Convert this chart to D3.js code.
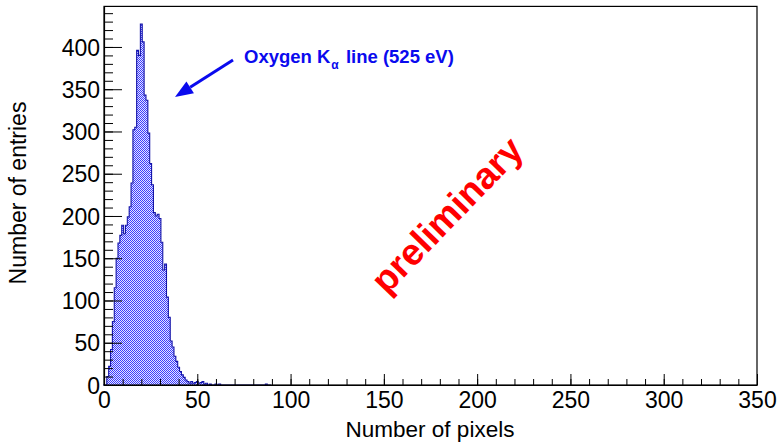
<!DOCTYPE html>
<html>
<head>
<meta charset="utf-8">
<script src="https://cdn.jsdelivr.net/npm/d3@7/dist/d3.min.js"></script>
<style>
  html, body { margin: 0; padding: 0; background: #fff; }
  svg { display: block; }
  text { font-family: "Liberation Sans", Arial, Helvetica, sans-serif; }
</style>
</head>
<body>
<svg id="chart" width="778" height="443"></svg>
<script>
// ---- data ----
// counts[i] = number of entries in the bin centred on i pixels (bin width 1)
const counts = [
  0, 0, 10, 22, 42, 75, 115, 150, 168, 177,
  189, 179, 189, 199, 211, 239, 302, 305, 396, 390,
  427, 406, 343, 337, 298, 262, 237, 204, 200, 202,
  197, 169, 136, 143, 104, 80, 52, 45, 34, 28,
  21, 16, 12, 9, 6, 4, 2, 4, 2, 3,
  4, 2, 3, 4, 1, 2, 0, 1, 0, 0,
  1, 0, 1, 0, 0, 0, 0, 0, 0, 0,
  0, 0, 0, 0, 0, 0, 0, 0, 0, 0,
  0, 0, 0, 0, 0, 0, 0, 1, 0, 0
];
const xDomain = [0, 350];
const yDomain = [0, 448];
const xMajorTicks = [0, 50, 100, 150, 200, 250, 300, 350];
const yMajorTicks = [0, 50, 100, 150, 200, 250, 300, 350, 400];
const xTitle = "Number of pixels";
const yTitle = "Number of entries";
const watermark = "preliminary";

// ---- layout ----
const svg = d3.select("#chart");
const L = 104, R = 757, T = 6.4, B = 385;
const x = d3.scaleLinear().domain(xDomain).range([L, R]);
const y = d3.scaleLinear().domain(yDomain).range([B, T]);

// fill pattern (checkered blue)
const defs = svg.append("defs");
const pat = defs.append("pattern").attr("id", "hatch")
  .attr("patternUnits", "userSpaceOnUse").attr("width", 2).attr("height", 2);
pat.append("rect").attr("width", 2).attr("height", 2).attr("fill", "#e4e4ff");
pat.append("rect").attr("x", 0).attr("y", 0).attr("width", 1).attr("height", 1).attr("fill", "#3c3cff");
pat.append("rect").attr("x", 1).attr("y", 1).attr("width", 1).attr("height", 1).attr("fill", "#3c3cff");

// histogram step path
const pts = [];
counts.forEach((c, i) => {
  pts.push([x(i - 0.5), y(c)]);
  pts.push([x(i + 0.5), y(c)]);
});
const first = pts[0], last = pts[pts.length - 1];
const area = [[first[0], y(0)], ...pts, [last[0], y(0)]];
svg.append("path")
  .attr("d", d3.line()(area) + "Z")
  .attr("fill", "url(#hatch)")
  .attr("stroke", "none");
svg.append("path")
  .attr("d", d3.line()(area))
  .attr("fill", "none")
  .attr("stroke", "#1414a8")
  .attr("stroke-width", 1.1);

// frame
svg.append("rect").attr("x", L).attr("y", T).attr("width", R - L).attr("height", B - T)
  .attr("fill", "none").attr("stroke", "#000").attr("stroke-width", 1.2);

// x axis
const xAxis = d3.axisBottom(x).tickValues(xMajorTicks).tickSizeInner(-11).tickSizeOuter(0).tickFormat(d3.format("d"));
const gx = svg.append("g").attr("transform", `translate(0,${B})`).call(xAxis);
gx.select(".domain").attr("stroke-width", 1.2);
gx.selectAll(".tick line").attr("stroke-width", 1);
gx.selectAll(".tick text").attr("font-size", 23).attr("fill", "#000")
  .attr("font-family", "Liberation Sans, Arial, sans-serif")
  .attr("y", 6).attr("dy", "0.72em");
const xMinor = d3.axisBottom(x).ticks(35).tickSizeInner(-6).tickSizeOuter(0).tickFormat("");
const gxm = svg.append("g").attr("transform", `translate(0,${B})`).call(xMinor);
gxm.select(".domain").remove();

// y axis
const yAxis = d3.axisLeft(y).tickValues(yMajorTicks).tickSizeInner(-18).tickSizeOuter(0).tickFormat(d3.format("d"));
const gy = svg.append("g").attr("transform", `translate(${L},0)`).call(yAxis);
gy.select(".domain").attr("stroke-width", 1.2);
gy.selectAll(".tick line").attr("stroke-width", 1);
gy.selectAll(".tick text").attr("font-size", 23).attr("fill", "#000")
  .attr("font-family", "Liberation Sans, Arial, sans-serif")
  .attr("x", -4).attr("dy", "0.35em");
const yMinor = d3.axisLeft(y).ticks(44).tickSizeInner(-9).tickSizeOuter(0).tickFormat("");
const gym = svg.append("g").attr("transform", `translate(${L},0)`).call(yMinor);
gym.select(".domain").remove();

// titles
svg.append("text").attr("x", 430).attr("y", 437).attr("text-anchor", "middle")
  .attr("font-size", 22.5).text(xTitle);
svg.append("text").attr("transform", "translate(26,193) rotate(-90)").attr("text-anchor", "middle")
  .attr("font-size", 23).text(yTitle);

// annotation arrow
const arrowStart = [233, 60], arrowEnd = [175, 97];
const dx = arrowEnd[0] - arrowStart[0], dy = arrowEnd[1] - arrowStart[1];
const len = Math.hypot(dx, dy), ux = dx / len, uy = dy / len;
const headL = 18, headW = 7;
const bx = arrowEnd[0] - ux * headL, by = arrowEnd[1] - uy * headL;
svg.append("line").attr("x1", arrowStart[0]).attr("y1", arrowStart[1]).attr("x2", bx).attr("y2", by)
  .attr("stroke", "#0a0aee").attr("stroke-width", 3);
svg.append("path")
  .attr("d", `M${arrowEnd[0]},${arrowEnd[1]} L${bx - uy * headW},${by + ux * headW} L${bx + uy * headW},${by - ux * headW} Z`)
  .attr("fill", "#0a0aee");

const ann = svg.append("text").attr("x", 244).attr("y", 63).attr("font-size", 18.5)
  .attr("font-weight", "bold").attr("fill", "#0a0aee");
ann.append("tspan").text("Oxygen K");
ann.append("tspan").attr("font-size", 12).attr("dy", 6).attr("dx", 1).text("α");
ann.append("tspan").attr("dy", -6).attr("dx", 2).text(" line (525 eV)");

// watermark
svg.append("text").attr("transform", "translate(449,217) rotate(-46)").attr("text-anchor", "middle")
  .attr("dominant-baseline", "middle")
  .attr("font-size", 37).attr("font-weight", "bold").attr("fill", "#ff0000").text(watermark);
</script>
</body>
</html>
